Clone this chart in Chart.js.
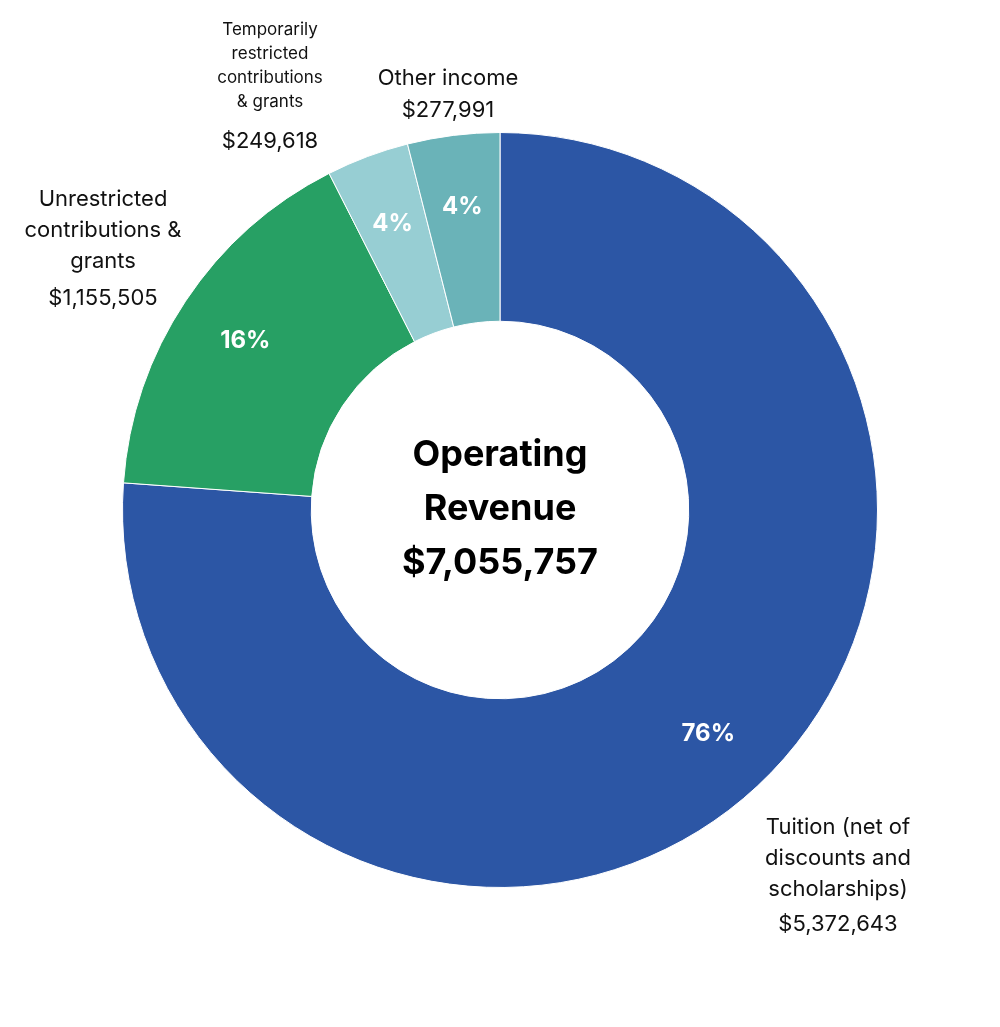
<!DOCTYPE html>
<html>
<head>
<script src="https://cdn.jsdelivr.net/npm/chart.js@4"></script>
<style>
  body { margin: 0; background: #fff; }
  #wrap { width: 1000px; height: 1027px; position: relative; }
</style>
</head>
<body>
<div id="wrap"><canvas id="revChart" width="1000" height="1027"></canvas></div>
<script>
const categories = [
  "Tuition (net of discounts and scholarships)",
  "Unrestricted contributions & grants",
  "Temporarily restricted contributions & grants",
  "Other income"
];
const amounts = [5372643, 1155505, 249618, 277991];
const percentLabels = ["76%", "16%", "4%", "4%"];
const colors = ["#2C56A5", "#27A064", "#97CED3", "#6AB3B8"];
const centerLines = ["Operating", "Revenue", "$7,055,757"];

const FONT = "Inter, 'Open Sans', sans-serif";
const money = v => "$" + v.toLocaleString("en-US");

// outside label blocks: [lines, font size, x, first baseline y, line gap]
const outside = [
  { lines: ["Tuition (net of", "discounts and", "scholarships)"], size: 22, x: 838, y: 834, gap: 31, amtY: 931 },
  { lines: ["Unrestricted", "contributions &", "grants"], size: 22, x: 103, y: 206, gap: 31, amtY: 305 },
  { lines: ["Temporarily", "restricted", "contributions", "& grants"], size: 17, x: 270, y: 35, gap: 24, amtY: 148 },
  { lines: ["Other income"], size: 22, x: 448, y: 85, gap: 31, amtY: 117 }
];

const labelPlugin = {
  id: "labels",
  afterDraw(chart) {
    const ctx = chart.ctx;
    const arcs = chart.getDatasetMeta(0).data;
    ctx.save();
    ctx.textAlign = "center";
    ctx.textBaseline = "middle";
    // percentages inside the ring
    arcs.forEach((arc, i) => {
      const mid = (arc.startAngle + arc.endAngle) / 2;
      const r = arc.innerRadius + (arc.outerRadius - arc.innerRadius) * 0.62;
      ctx.fillStyle = "#fff";
      ctx.font = "bold 24px " + FONT;
      ctx.fillText(percentLabels[i], arc.x + Math.cos(mid) * r, arc.y + Math.sin(mid) * r);
    });
    // center title
    const c = arcs[0];
    ctx.fillStyle = "#000";
    ctx.font = "bold 36px " + FONT;
    centerLines.forEach((t, i) => ctx.fillText(t, c.x, c.y - 55 + i * 54));
    // outside labels
    ctx.textBaseline = "alphabetic";
    outside.forEach((o, i) => {
      ctx.fillStyle = "#111";
      ctx.font = o.size + "px " + FONT;
      o.lines.forEach((t, j) => ctx.fillText(t, o.x, o.y + j * o.gap));
      ctx.font = "22px " + FONT;
      ctx.fillText(money(amounts[i]), o.x, o.amtY);
    });
    ctx.restore();
  }
};

new Chart(document.getElementById("revChart"), {
  type: "doughnut",
  data: {
    labels: categories,
    datasets: [{
      data: amounts,
      backgroundColor: colors,
      borderColor: "#fff",
      borderWidth: 1
    }]
  },
  options: {
    responsive: false,
    animation: false,
    cutout: "50%",
    layout: { padding: { left: 122, right: 122, top: 132, bottom: 139 } },
    plugins: { legend: { display: false }, tooltip: { enabled: false } }
  },
  plugins: [labelPlugin]
});
</script>
</body>
</html>
